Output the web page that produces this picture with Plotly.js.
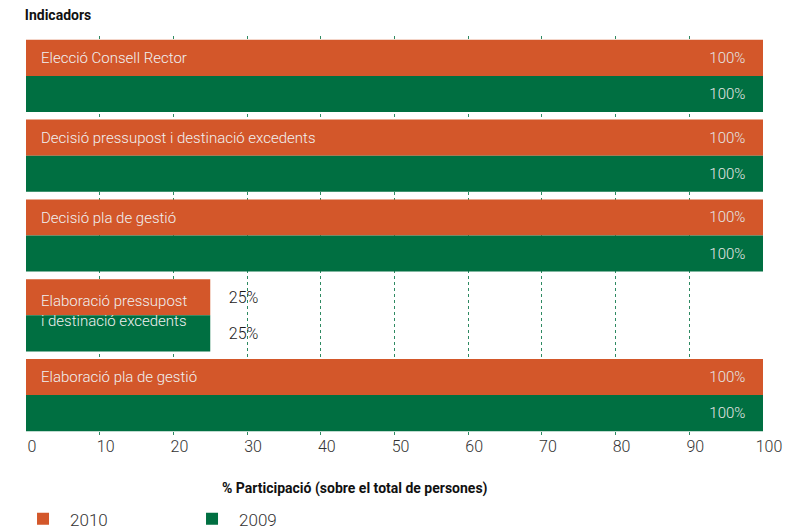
<!DOCTYPE html>
<html>
<head>
<meta charset="utf-8">
<script src="https://cdn.plot.ly/plotly-3.0.1.min.js"></script>
<style>html,body{margin:0;padding:0;background:#fff;}#chart{width:801px;height:531px;}</style>
</head>
<body>
<div id="chart"></div>
<script>
const categories = [
  'Elecció Consell Rector',
  'Decisió pressupost i destinació excedents',
  'Decisió pla de gestió',
  'Elaboració pressupost i destinació excedents',
  'Elaboració pla de gestió'
];
const categoryLabels = [
  'Elecció Consell Rector',
  'Decisió pressupost i destinació excedents',
  'Decisió pla de gestió',
  'Elaboració pressupost<br>i destinació excedents',
  'Elaboració pla de gestió'
];
const values2010 = [100, 100, 100, 25, 100];
const values2009 = [100, 100, 100, 25, 100];
const seriesNames = ['2010', '2009'];
const tickValues = [0, 10, 20, 30, 40, 50, 60, 70, 80, 90, 100];
const chartTitle = 'Indicadors';
const xAxisTitle = '% Participació (sobre el total de persones)';

const FONT = '"Liberation Sans Narrow", "Roboto", sans-serif';
const colors = ['#d3572a', '#006f41'];
const PAD = '\u00a0\u00a0\u00a0\u00a0';

function pos(v) { return v.map(x => x >= 50 ? 'inside' : 'outside'); }
function labels(v) { return v.map(x => x >= 50 ? x + '%' + PAD : PAD + x + '%'); }

const traces = [values2010, values2009].map((vals, i) => ({
  type: 'bar',
  orientation: 'h',
  name: seriesNames[i],
  y: categories,
  x: vals,
  text: labels(vals),
  textposition: pos(vals),
  insidetextanchor: 'end',
  insidetextfont: {family: FONT, size: 15, weight: 300, color: '#e6e6e6'},
  outsidetextfont: {family: FONT, size: 16, weight: 300, color: '#1a1a1a'},
  cliponaxis: false,
  marker: {color: colors[i], line: {width: 0}},
  hoverinfo: 'x+y+name'
}));

const annotations = categories.map((c, i) => ({
  x: 0, y: c, xref: 'x', yref: 'y',
  text: categoryLabels[i],
  showarrow: false,
  xanchor: 'left', yanchor: 'middle', align: 'left',
  xshift: 13,
  yshift: categoryLabels[i].includes('<br>') ? 4 : 18,
  font: {family: FONT, size: 15, weight: 300, color: '#f0f0f0'}
}));

annotations.push({
  xref: 'paper', yref: 'paper', x: 0.4464, y: 0, yshift: -53,
  xanchor: 'center', yanchor: 'middle', showarrow: false,
  text: '<b>' + xAxisTitle + '</b>',
  font: {family: FONT, size: 14, color: '#111'}
});

const layout = {
  width: 801, height: 531,
  margin: {l: 26, r: 38, t: 36, b: 96},
  paper_bgcolor: '#ffffff',
  plot_bgcolor: '#ffffff',
  barmode: 'group',
  bargap: 0.095,
  bargroupgap: 0,
  title: {
    text: '<b>' + chartTitle + '</b>',
    x: 0.031, xref: 'container', xanchor: 'left',
    y: 0.972, yref: 'container', yanchor: 'middle',
    font: {family: FONT, size: 14, color: '#111'}
  },
  xaxis: {
    range: [0, 100],
    tickvals: tickValues,
    ticktext: tickValues.map(String),
    showgrid: true,
    gridcolor: '#2e8a62',
    griddash: 'dot',
    gridwidth: 1,
    zeroline: false,
    showline: false,
    ticks: '',
    ticklabelshift: 6,
    automargin: false,
    tickfont: {family: FONT, size: 16, weight: 300, color: '#333'},
    fixedrange: true
  },
  yaxis: {
    type: 'category',
    autorange: 'reversed',
    showticklabels: false,
    showgrid: false,
    zeroline: false,
    ticks: '',
    automargin: false,
    fixedrange: true
  },
  showlegend: true,
  legend: {
    orientation: 'h',
    xref: 'container', x: 0.02, xanchor: 'left',
    yref: 'container', y: 0.022, yanchor: 'middle',
    traceorder: 'normal',
    itemwidth: 44,
    font: {family: FONT, size: 17, weight: 300, color: '#333'},
    entrywidth: 110
  },
  annotations: annotations
};

Plotly.newPlot('chart', traces, layout, {displayModeBar: false, staticPlot: true});
</script>
</body>
</html>
